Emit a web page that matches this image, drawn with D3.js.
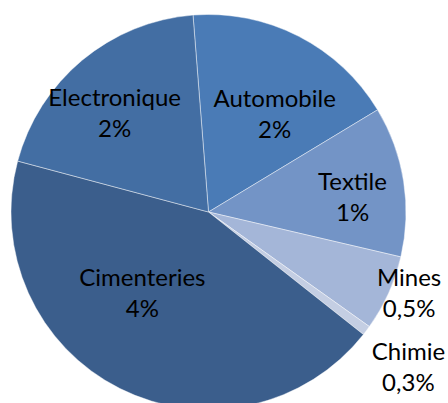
<!DOCTYPE html>
<html>
<head>
<meta charset="utf-8">
<script src="https://cdn.jsdelivr.net/npm/d3@7"></script>
<style>
    html, body { margin: 0; padding: 0; background: #fff; }
    svg { display: block; }
    .label { font-family: Lato, "Open Sans", sans-serif; font-size: 24px; fill: #000; }
</style>
</head>
<body>
<svg id="chart"></svg>
<script>
// categories, clockwise from the top
var sectors = ['Automobile', 'Textile', 'Mines', 'Chimie', 'Cimenteries', 'Electronique'];
// share of the circle each slice takes
var shares = [17.6, 12.3, 6.2, 0.8, 43.5, 19.6];
// text shown in the data labels
var valueLabels = ['2%', '1%', '0,5%', '0,3%', '4%', '2%'];

var colors = ['#4a7bb6', '#7394c6', '#a4b6d8', '#c4cee3', '#3b5e8c', '#436ea3'];
// label layout: [radius factor, dx, dy] from the arc centroid
var labelLayout = [[0.6, 12, 16], [0.6, 27, 12], [1.12, -1, -2], [1.12, 23, 31], [0.6, -13, -16], [0.6, -18, 1]];

var width = 448, height = 403;
var cx = 208.5, cy = 212, radius = 197.5;

var svg = d3.select('#chart')
    .attr('width', width)
    .attr('height', height);

var root = svg.append('g')
    .attr('transform', 'translate(' + cx + ',' + cy + ')');

var start = -4.5 * Math.PI / 180;
var pie = d3.pie()
    .sort(null)
    .value(function (d) { return d; })
    .startAngle(start)
    .endAngle(start + 2 * Math.PI);

var arcs = pie(shares);
var arc = d3.arc().innerRadius(0).outerRadius(radius);

root.selectAll('path')
    .data(arcs)
    .enter()
    .append('path')
    .attr('d', arc)
    .style('fill', function (d, i) { return colors[i]; })
    .style('stroke', 'rgba(255,255,255,0.55)')
    .style('stroke-width', 0.8);

var labels = root.selectAll('text')
    .data(arcs)
    .enter()
    .append('text')
    .attr('class', 'label')
    .attr('text-anchor', 'middle')
    .attr('transform', function (d, i) {
        var l = labelLayout[i];
        var la = d3.arc().innerRadius(radius * l[0]).outerRadius(radius * l[0]);
        var c = la.centroid(d);
        return 'translate(' + (c[0] + l[1]) + ',' + (c[1] + l[2]) + ')';
    });

labels.append('tspan')
    .attr('x', 0)
    .attr('y', -15.5)
    .text(function (d, i) { return sectors[i]; });

labels.append('tspan')
    .attr('x', 0)
    .attr('y', 15.5)
    .text(function (d, i) { return valueLabels[i]; });
</script>
</body>
</html>
